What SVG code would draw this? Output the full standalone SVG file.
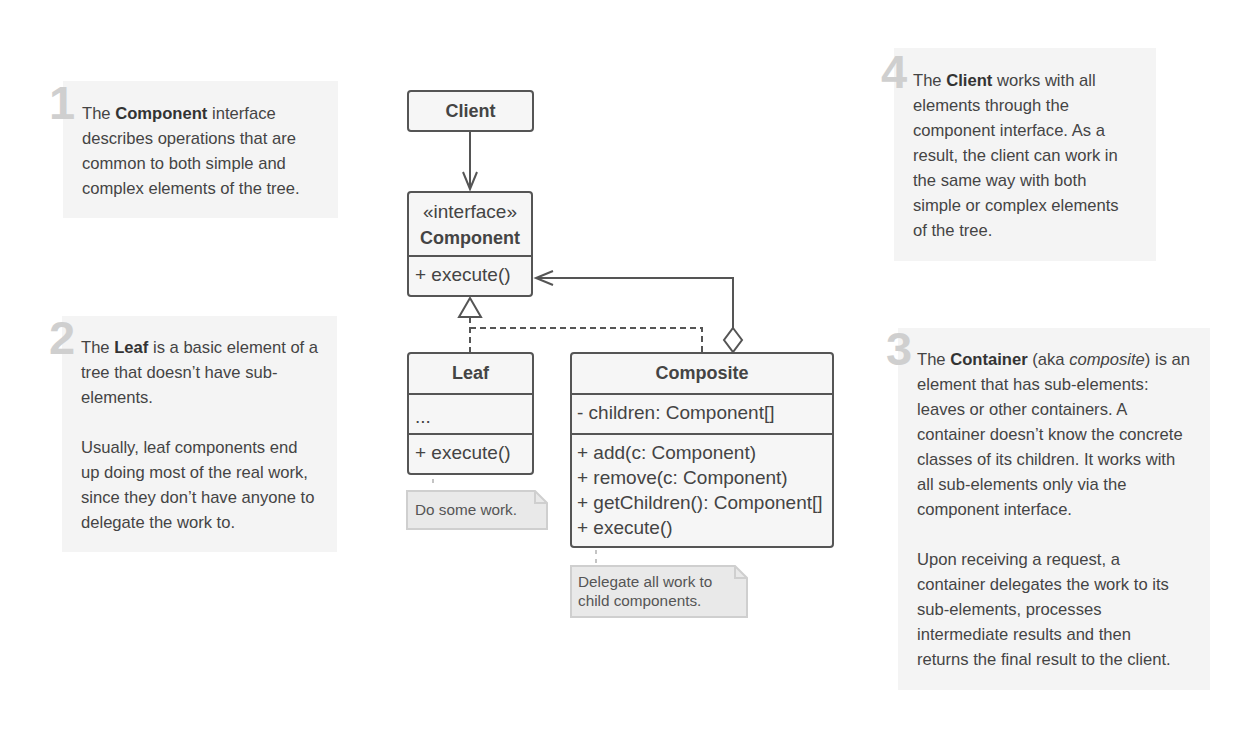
<svg xmlns="http://www.w3.org/2000/svg" width="1254" height="740" viewBox="0 0 1254 740">
<style>
.bg{fill:#ffffff}
.card{fill:#f4f4f4}
.num{font-family:"Liberation Sans",Arial,sans-serif;font-weight:bold;font-size:47px;fill:#cfcfcf}
.p{font-family:"Liberation Sans",Arial,sans-serif;font-size:16.6px;fill:#444}
.b{font-weight:bold;fill:#333}
.box{fill:#f6f6f6;stroke:#555;stroke-width:2}
.div{stroke:#555;stroke-width:2}
.t{font-family:"Liberation Sans",Arial,sans-serif;font-size:19px;fill:#444}
.tb{font-family:"Liberation Sans",Arial,sans-serif;font-size:18px;font-weight:bold;fill:#444}
.note{fill:#e9e9e9;stroke:#cfcfcf;stroke-width:2}
.nt{font-family:"Liberation Sans",Arial,sans-serif;font-size:15.3px;fill:#555}
.ln{fill:none;stroke:#555;stroke-width:2}
.dash{fill:none;stroke:#555;stroke-width:2;stroke-dasharray:6 4}
.ndash{fill:none;stroke:#c4c4c4;stroke-width:2;stroke-dasharray:4 5}
</style>
<rect class="bg" x="0" y="0" width="1254" height="740"/>

<g id="desc1">
<rect class="card" x="63" y="81" width="275" height="137"/>
<text class="num" x="49" y="119">1</text>
<text class="p" x="82" y="119">The <tspan class="b">Component</tspan> interface</text>
<text class="p" x="82" y="144">describes operations that are</text>
<text class="p" x="82" y="169">common to both simple and</text>
<text class="p" x="82" y="194">complex elements of the tree.</text>
</g>

<g id="desc2">
<rect class="card" x="62" y="316" width="275" height="236"/>
<text class="num" x="49" y="354">2</text>
<text class="p" x="81" y="353">The <tspan class="b">Leaf</tspan> is a basic element of a</text>
<text class="p" x="81" y="378">tree that doesn’t have sub-</text>
<text class="p" x="81" y="403">elements.</text>
<text class="p" x="81" y="453">Usually, leaf components end</text>
<text class="p" x="81" y="478">up doing most of the real work,</text>
<text class="p" x="81" y="503">since they don’t have anyone to</text>
<text class="p" x="81" y="528">delegate the work to.</text>
</g>

<g id="desc4">
<rect class="card" x="894" y="48" width="262" height="213"/>
<text class="num" x="881" y="88">4</text>
<text class="p" x="913" y="86">The <tspan class="b">Client</tspan> works with all</text>
<text class="p" x="913" y="111">elements through the</text>
<text class="p" x="913" y="136">component interface. As a</text>
<text class="p" x="913" y="161">result, the client can work in</text>
<text class="p" x="913" y="186">the same way with both</text>
<text class="p" x="913" y="211">simple or complex elements</text>
<text class="p" x="913" y="236">of the tree.</text>
</g>

<g id="desc3">
<rect class="card" x="898" y="328" width="312" height="362"/>
<text class="num" x="886" y="365">3</text>
<text class="p" x="917" y="365">The <tspan class="b">Container</tspan> (aka <tspan font-style="italic">composite</tspan>) is an</text>
<text class="p" x="917" y="390">element that has sub-elements:</text>
<text class="p" x="917" y="415">leaves or other containers. A</text>
<text class="p" x="917" y="440">container doesn’t know the concrete</text>
<text class="p" x="917" y="465">classes of its children. It works with</text>
<text class="p" x="917" y="490">all sub-elements only via the</text>
<text class="p" x="917" y="515">component interface.</text>
<text class="p" x="917" y="565">Upon receiving a request, a</text>
<text class="p" x="917" y="590">container delegates the work to its</text>
<text class="p" x="917" y="615">sub-elements, processes</text>
<text class="p" x="917" y="640">intermediate results and then</text>
<text class="p" x="917" y="665">returns the final result to the client.</text>
</g>

<g id="connectors">
<path class="ln" d="M470,131 V189"/>
<path class="ln" d="M463,172 L470,189 L477,172"/>
<path class="ln" d="M733,328 V278 H536"/>
<path class="ln" d="M553,271 L536,278 L553,285"/>
<path class="ln" d="M733,328 L742,340 L733,352 L724,340 Z" style="fill:#ffffff"/>
<path class="dash" d="M470,353 V318"/>
<path class="dash" d="M470,328 H702 V353"/>
<path class="ln" d="M470,298 L481,317 H459 Z" style="fill:#ffffff"/>
<path class="ndash" d="M433,479 V487"/>
<path class="ndash" d="M596,550 V564"/>
</g>

<g id="client">
<rect class="box" x="408" y="91" width="125" height="40" rx="3"/>
<text class="tb" x="470.5" y="117" text-anchor="middle">Client</text>
</g>

<g id="component">
<rect class="box" x="408" y="192" width="124" height="104" rx="3"/>
<line class="div" x1="408" y1="256" x2="532" y2="256"/>
<text class="t" x="470" y="218" text-anchor="middle">«interface»</text>
<text class="tb" x="470" y="244" text-anchor="middle">Component</text>
<text class="t" x="415" y="281">+ execute()</text>
</g>

<g id="leaf">
<rect class="box" x="408" y="353" width="125" height="121" rx="3"/>
<line class="div" x1="408" y1="394" x2="533" y2="394"/>
<line class="div" x1="408" y1="434" x2="533" y2="434"/>
<text class="tb" x="470.5" y="379" text-anchor="middle">Leaf</text>
<text class="t" x="415" y="423">...</text>
<text class="t" x="415" y="459">+ execute()</text>
</g>

<g id="composite">
<rect class="box" x="571" y="353" width="262" height="194" rx="3"/>
<line class="div" x1="571" y1="394" x2="833" y2="394"/>
<line class="div" x1="571" y1="434" x2="833" y2="434"/>
<text class="tb" x="702" y="379" text-anchor="middle">Composite</text>
<text class="t" x="577" y="419">- children: Component[]</text>
<text class="t" x="577" y="459">+ add(c: Component)</text>
<text class="t" x="577" y="484">+ remove(c: Component)</text>
<text class="t" x="577" y="509">+ getChildren(): Component[]</text>
<text class="t" x="577" y="534">+ execute()</text>
</g>

<g id="note-leaf">
<path class="note" d="M407,491 H535 L547,503 V529 H407 Z"/>
<path class="note" d="M535,491 V503 H547" style="fill:none"/>
<text class="nt" x="415" y="515">Do some work.</text>
</g>

<g id="note-composite">
<path class="note" d="M571,566 H735 L747,578 V617 H571 Z"/>
<path class="note" d="M735,566 V578 H747" style="fill:none"/>
<text class="nt" x="578" y="587">Delegate all work to</text>
<text class="nt" x="578" y="606">child components.</text>
</g>
</svg>
